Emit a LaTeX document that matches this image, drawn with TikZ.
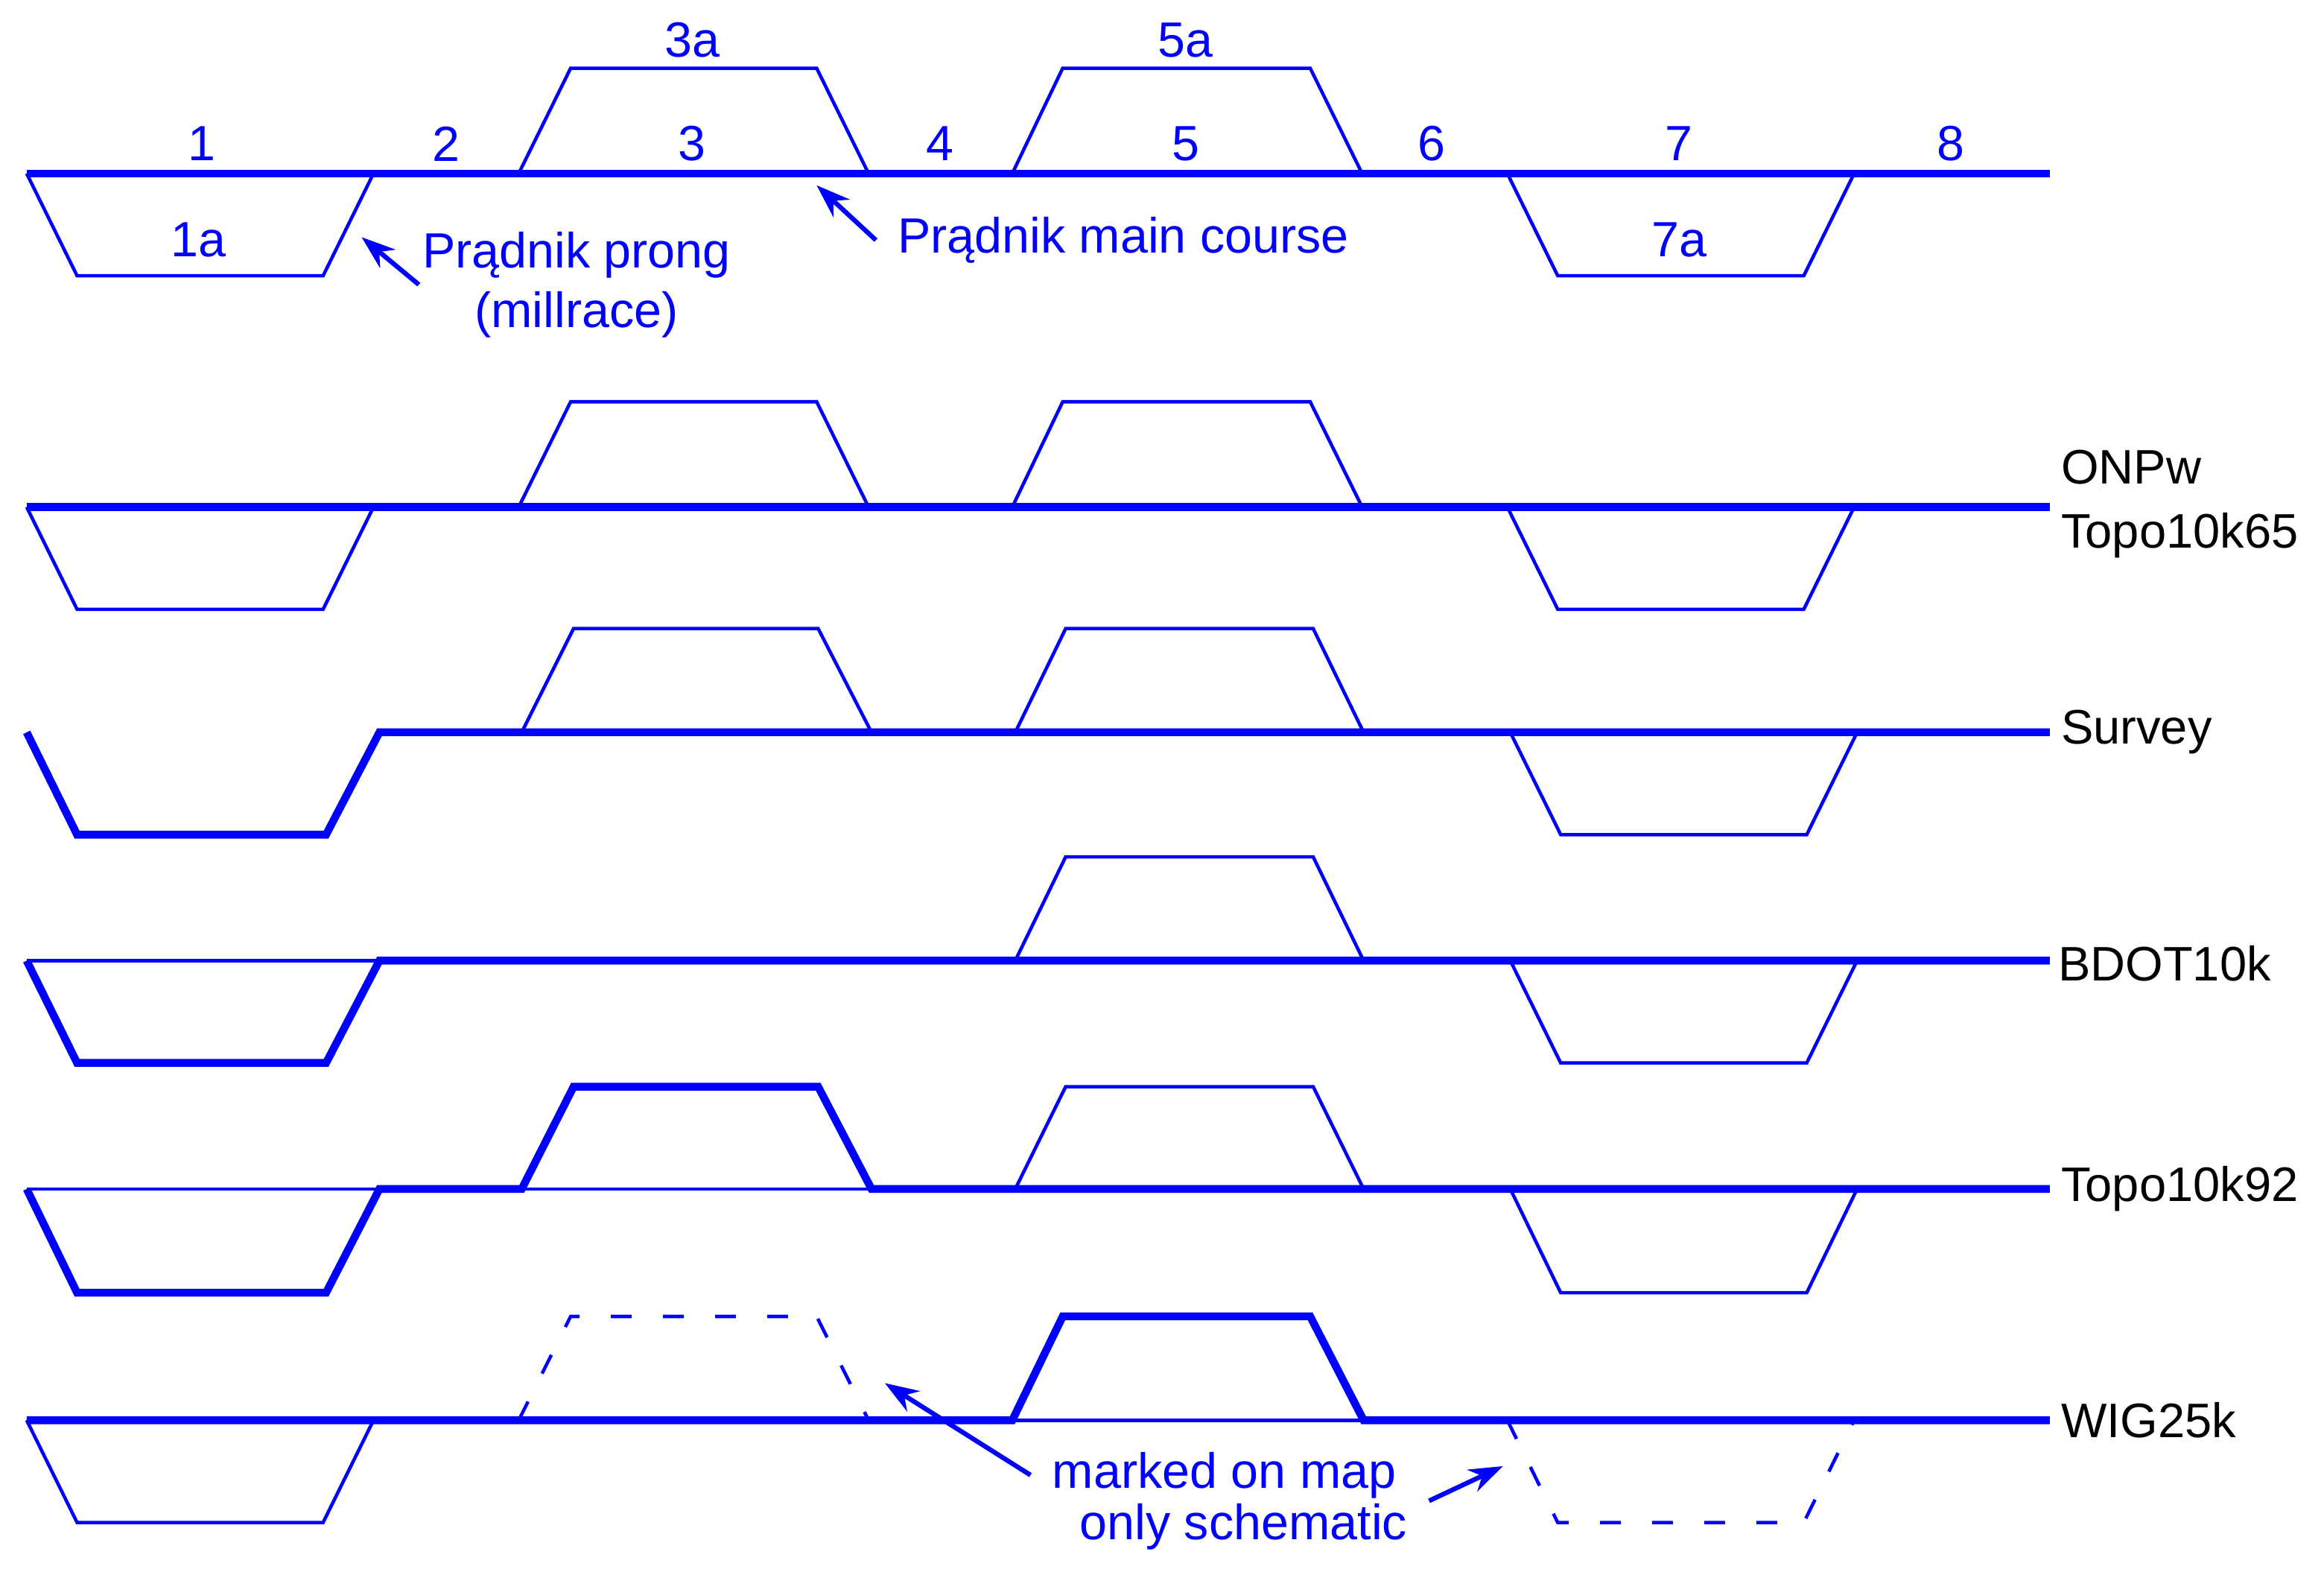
\documentclass[tikz,border=0pt]{standalone}
\usepackage{fontspec}
\setmainfont{Liberation Sans}
\usepackage{tikz}
\usetikzlibrary{arrows.meta,calc}
\definecolor{rBlue}{RGB}{0,0,255}

\begin{document}
\begin{tikzpicture}[x=0.1mm, y=-0.1mm,
  river/.style={rBlue, line width=1.5pt},
  arm/.style={rBlue, line width=0.65pt},
  sketchy/.style={arm, dash pattern=on 4pt off 6pt},
  pointer/.style={rBlue, line width=0.9pt, -{Stealth[length=6.5pt,width=4.6pt]}},
  lbl/.style={text=rBlue, font=\fontsize{9.5}{11.5}\selectfont},
  src/.style={anchor=west, align=left, inner sep=0pt, font=\fontsize{9.3}{12.2}\selectfont}]
  \useasboundingbox (0,0) rectangle (1568,1060);

  \foreach \r in {117,342}{
    \draw[river] (18,\r) -- (1383,\r);
    \draw[arm] (18,\r) -- (52,\r+69) -- (218,\r+69) -- (252,\r);
    \draw[arm] (350,\r) -- (385,\r-71) -- (551,\r-71) -- (586,\r);
    \draw[arm] (683,\r) -- (717,\r-71) -- (884,\r-71) -- (919,\r);
    \draw[arm] (1017,\r) -- (1051,\r+69) -- (1217,\r+69) -- (1251,\r);
  }

  \foreach \x/\t in {136/1, 301/2, 467/3, 634/4, 800/5, 966/6, 1133/7, 1316/8}
    \node[lbl] (seg\t) at (\x,97) {\t};
  \node[lbl] (seg3a) at (467,27) {3a};
  \node[lbl] (seg5a) at (800,27) {5a};
  \node[lbl] (seg1a) at (134,162) {1a};
  \node[lbl] (seg7a) at (1133,162) {7a};

  \node[lbl, align=center, inner sep=0.5pt] (prong) at (389,192) {Prądnik prong\\(millrace)};
  \coordinate (prongtip) at (244,160);
  \draw[pointer] (prong.west) -- (prongtip);
  \node[lbl, anchor=west, inner sep=4pt] (course) at (591,162) {Prądnik main course};
  \coordinate (coursetip) at (551,125);
  \draw[pointer] (course.west) -- (coursetip);

  % Survey
  \draw[river] (18,494) -- (52,563) -- (220,563) -- (256,494) -- (1383,494);
  \draw[arm] (352,494) -- (387,424) -- (552,424) -- (588,494);
  \draw[arm] (685,494) -- (719,424) -- (886,424) -- (920,494);
  \draw[arm] (1019,494) -- (1053,563) -- (1219,563) -- (1253,494);

  % BDOT10k
  \draw[river] (18,648) -- (52,717) -- (220,717) -- (256,648) -- (1383,648);
  \draw[arm] (18,648) -- (256,648);
  \draw[arm] (685,648) -- (719,578) -- (886,578) -- (920,648);
  \draw[arm] (1019,648) -- (1053,717) -- (1219,717) -- (1253,648);

  % Topo10k92
  \draw[river] (18,802) -- (52,872) -- (220,872) -- (256,802) -- (352,802)
    -- (387,733) -- (552,733) -- (588,802) -- (1383,802);
  \draw[arm] (18,802) -- (256,802);
  \draw[arm] (352,802) -- (588,802);
  \draw[arm] (685,802) -- (719,733) -- (886,733) -- (920,802);
  \draw[arm] (1019,802) -- (1053,872) -- (1219,872) -- (1253,802);

  % WIG25k
  \draw[river] (18,958) -- (683,958) -- (717,888) -- (884,888) -- (920,958) -- (1383,958);
  \draw[arm] (683,958) -- (920,958);
  \draw[arm] (18,958) -- (52,1027) -- (218,1027) -- (252,958);
  \draw[sketchy] (350,958) -- (385,888) -- (551,888) -- (586,958);
  \draw[sketchy] (1017,958) -- (1051,1027) -- (1217,1027) -- (1251,958);

  \node[src] (onpw) at (1390,340) {ONPw\\Topo10k65};
  \node[src] (survey) at (1390,494) {Survey};
  \node[src] (bdot) at (1388,650) {BDOT10k};
  \node[src] (topo92) at (1390,802) {Topo10k92};
  \node[src] (wig) at (1390,958) {WIG25k};

  \node[lbl, inner sep=4pt] (marked) at (826,995) {marked on map};
  \node[lbl, inner sep=4pt] (schem) at (839,1030) {only schematic};
  \coordinate (dashtip3) at (597,933);
  \coordinate (dashtip7) at (1014,989);
  \draw[pointer] (marked.west) -- (dashtip3);
  \draw[pointer] (schem.8) -- (dashtip7);
\end{tikzpicture}
\end{document}
